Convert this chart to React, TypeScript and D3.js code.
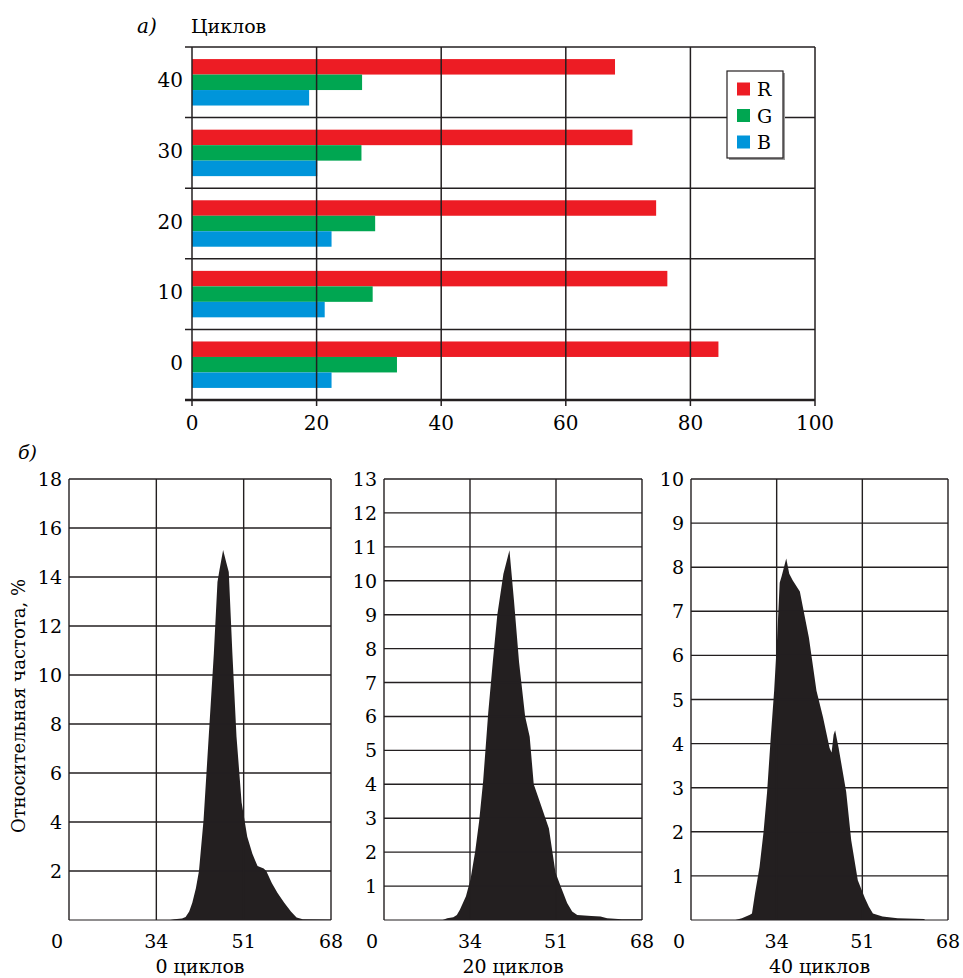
import * as d3 from "d3";

// top chart: RGB share per number of cycles
const cycles = ["0", "10", "20", "30", "40"];
const channels = ["R", "G", "B"];
const valuesR = [84.5, 76.3, 74.5, 70.7, 67.9];
const valuesG = [32.9, 29.0, 29.4, 27.2, 27.3];
const valuesB = [22.4, 21.3, 22.4, 20.1, 18.8];
const topTicks = [0, 20, 40, 60, 80, 100];

// bottom charts: histograms, [x, relative frequency %]
const hist0: [number, number][] = [
  [36.7, 0], [37.5, 0.03], [39.0, 0.06], [39.7, 0.12], [40.4, 0.35], [41.0, 0.7],
  [41.7, 1.3], [42.3, 2.0], [43.2, 4.1], [44.2, 7.5], [45.2, 10.9], [45.9, 13.8],
  [46.3, 14.3], [47.0, 15.1], [47.6, 14.6], [48.1, 14.2], [48.8, 10.9], [49.6, 7.5],
  [50.6, 4.8], [51.7, 3.4], [52.7, 2.7], [53.7, 2.2], [54.9, 2.1], [55.4, 2.0],
  [56.5, 1.5], [57.6, 1.1], [58.9, 0.7], [60.2, 0.35], [61.3, 0.1], [62.5, 0.03],
  [68, 0.02], [68, 0],
];
const hist20: [number, number][] = [
  [28.6, 0], [29.5, 0.05], [30.7, 0.08], [31.4, 0.15], [32.0, 0.3], [33.2, 0.7],
  [34.1, 1.2], [35.0, 2.0], [35.8, 2.9], [36.6, 4.1], [37.6, 6.1], [38.5, 7.6],
  [39.4, 9.0], [40.6, 10.2], [41.8, 10.9], [42.7, 9.4], [43.7, 7.6], [44.9, 6.0],
  [45.8, 5.4], [46.6, 4.0], [48.0, 3.4], [49.6, 2.7], [50.3, 2.0], [50.9, 1.4],
  [51.9, 1.0], [53.2, 0.5], [54.2, 0.25], [55.2, 0.15], [58.0, 0.12], [59.8, 0.1],
  [61.1, 0.05], [64, 0.02], [68, 0.02], [68, 0],
];
const hist40: [number, number][] = [
  [25.8, 0], [27.1, 0.04], [28.7, 0.12], [29.1, 0.15], [29.7, 0.6], [30.6, 1.2],
  [31.4, 2.0], [32.1, 2.9], [32.8, 4.1], [33.5, 5.2], [34.1, 6.4], [34.6, 7.65],
  [35.0, 7.8], [35.9, 8.2], [36.5, 7.85], [37.2, 7.7], [38.6, 7.45], [39.2, 7.1],
  [40.4, 6.4], [41.9, 5.2], [43.2, 4.6], [44.5, 3.9], [44.9, 3.8], [45.3, 4.2],
  [45.6, 4.3], [46.3, 3.9], [47.8, 2.9], [48.8, 1.8], [50.1, 0.9], [51.5, 0.5],
  [52.3, 0.3], [53.1, 0.15], [55, 0.08], [58, 0.04], [63.3, 0.02], [63.4, 0],
];
const histXTicks = [34, 51, 68];
const histTitles = ["0 циклов", "20 циклов", "40 циклов"];
const histMax = [18, 13, 10];
const histStep = [2, 1, 1];

const colors: Record<string, string> = { R: "#ed1c24", G: "#00a651", B: "#0095da" };
const ink = "#231f20";
const font = "DejaVu Serif, serif";

function TopChart() {
  const left = 192, right = 815, top = 47, bottom = 400;
  const x = d3.scaleLinear().domain([0, 100]).range([left, right]);
  const y = d3.scaleBand<string>().domain([...cycles].reverse()).range([top, bottom]);
  const sub = d3.scaleBand<string>().domain(channels).range([0, y.bandwidth()]).paddingOuter(0.78);
  const series: Record<string, number[]> = { R: valuesR, G: valuesG, B: valuesB };
  const bounds = [...y.domain().map((c) => y(c)!), bottom];

  return (
    <g>
      <text x={137} y={33} fontSize={20} fontStyle="italic">а)</text>
      <text x={191} y={33} fontSize={19}>Циклов</text>
      {/* bars */}
      {cycles.map((c, i) =>
        channels.map((ch) => (
          <rect key={c + ch} x={x(0)} y={y(c)! + sub(ch)!} width={x(series[ch][i]) - x(0)}
            height={sub.bandwidth()} fill={colors[ch]} />
        ))
      )}
      {/* grid */}
      {topTicks.map((t) => (
        <line key={"v" + t} x1={x(t)} x2={x(t)} y1={top} y2={bottom + 6} stroke={ink} strokeWidth={1.5} />
      ))}
      {bounds.map((b, i) => (
        <line key={"h" + i} x1={left - 7} x2={right} y1={b} y2={b} stroke={ink}
          strokeWidth={i === bounds.length - 1 ? 2.4 : 1.5} />
      ))}
      {cycles.map((c) => (
        <text key={"l" + c} x={left - 9} y={y(c)! + y.bandwidth() / 2 + 5} fontSize={20} textAnchor="end">{c}</text>
      ))}
      {topTicks.map((t) => (
        <text key={"t" + t} x={x(t)} y={430} fontSize={20} textAnchor="middle">{t}</text>
      ))}
      {/* legend */}
      <rect x={729} y={73} width={56} height={87} fill="#9a9a9a" />
      <rect x={727} y={71} width={56} height={87} fill="#fff" stroke={ink} strokeWidth={1.2} />
      {channels.map((ch, i) => (
        <g key={"lg" + ch} transform={`translate(737,${89 + i * 26.5})`}>
          <rect x={0} y={-6.5} width={13} height={13} fill={colors[ch]} />
          <text x={20} y={7} fontSize={19}>{ch}</text>
        </g>
      ))}
    </g>
  );
}

function Histogram({ data, left, width, max, step, title }: {
  data: [number, number][]; left: number; width: number; max: number; step: number; title: string;
}) {
  const top = 479, bottom = 920;
  const x = d3.scaleLinear().domain([17, 68]).range([left, left + width]);
  const y = d3.scaleLinear().domain([0, max]).range([bottom, top]);
  const area = d3.area<[number, number]>().x((d) => x(d[0])).y0(bottom).y1((d) => y(d[1]));
  const yTicks = d3.range(step, max + 0.001, step);

  return (
    <g>
      <path d={area(data)!} fill={ink} />
      {yTicks.map((t) => (
        <line key={"h" + t} x1={left} x2={left + width} y1={y(t)} y2={y(t)} stroke={ink} strokeWidth={1.4} />
      ))}
      {histXTicks.map((t) => (
        <line key={"v" + t} x1={x(t)} x2={x(t)} y1={top} y2={bottom} stroke={ink} strokeWidth={1.4} />
      ))}
      <line x1={left} x2={left} y1={top} y2={bottom} stroke={ink} strokeWidth={1.4} />
      <line x1={left} x2={left + width} y1={bottom} y2={bottom} stroke={ink} strokeWidth={1.2} />
      {yTicks.map((t) => (
        <text key={"yt" + t} x={left - 7} y={y(t) + 7} fontSize={19} textAnchor="end">{t}</text>
      ))}
      <text x={left - 12} y={948} fontSize={19} textAnchor="middle">0</text>
      {histXTicks.map((t) => (
        <text key={"xt" + t} x={x(t)} y={948} fontSize={19} textAnchor="middle">{t}</text>
      ))}
      <text x={left + width / 2} y={973} fontSize={19} textAnchor="middle">{title}</text>
    </g>
  );
}

export default function App() {
  const hists = [hist0, hist20, hist40];
  const lefts = [69, 384, 691];
  const widths = [262, 258, 257];
  return (
    <div style={{ position: "absolute", left: 0, top: 0 }}>
      <svg width={963} height={978} style={{ display: "block", background: "#fff", fontFamily: font }}>
        <TopChart />
        <text x={18} y={459} fontSize={19} fontStyle="italic">б)</text>
        <text transform="translate(25,706) rotate(-90)" fontSize={18} textAnchor="middle">
          Относительная частота, %
        </text>
        {hists.map((h, i) => (
          <Histogram key={i} data={h} left={lefts[i]} width={widths[i]} max={histMax[i]}
            step={histStep[i]} title={histTitles[i]} />
        ))}
      </svg>
    </div>
  );
}
